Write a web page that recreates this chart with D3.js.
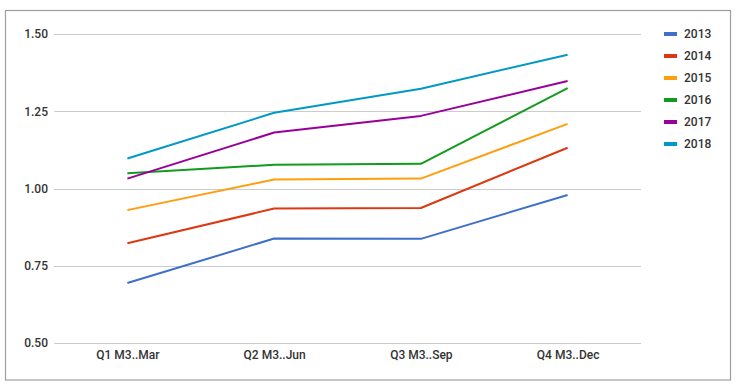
<!DOCTYPE html>
<html>
<head>
<meta charset="utf-8">
<script src="https://cdn.jsdelivr.net/npm/d3@7"></script>
<style>
  body { margin: 0; background: #fff; }
  svg { display: block; font-family: Roboto, "Noto Sans", sans-serif; }
</style>
</head>
<body>
<script>
(function(){

//data
var quarters = ["Q1 M3..Mar", "Q2 M3..Jun", "Q3 M3..Sep", "Q4 M3..Dec"];
var years = ["2013", "2014", "2015", "2016", "2017", "2018"];
var v2013 = [0.694, 0.838, 0.837, 0.979];
var v2014 = [0.823, 0.935, 0.937, 1.132];
var v2015 = [0.930, 1.029, 1.032, 1.209];
var v2016 = [1.049, 1.077, 1.080, 1.325];
var v2017 = [1.032, 1.181, 1.235, 1.348];
var v2018 = [1.097, 1.245, 1.323, 1.433];
var yTicks = [0.50, 0.75, 1.00, 1.25, 1.50];
var colors = ["#3f6fcc", "#dc3912", "#ff9e0f", "#149a1e", "#990099", "#0099c6"];

var seriesValues = [v2013, v2014, v2015, v2016, v2017, v2018];

//frame
var width = 739,
    height = 388;

var svg = d3.select("body")
    .append("svg")
    .attr("width", width)
    .attr("height", height);

//outer border
svg.append("rect")
    .attr("x", 5.5)
    .attr("y", 10.5)
    .attr("width", 725)
    .attr("height", 369.5)
    .attr("fill", "none")
    .attr("stroke", "#9e9e9e")
    .attr("stroke-width", 1.2);

var plot = {left: 54, right: 641, top: 34, bottom: 343};

var x = d3.scalePoint()
    .domain(quarters)
    .range([plot.left, plot.right])
    .padding(0.5);

var y = d3.scaleLinear()
    .domain([0.5, 1.5])
    .range([plot.bottom, plot.top]);

//gridlines
svg.selectAll(".grid")
    .data(yTicks)
    .enter()
    .append("line")
    .attr("class", "grid")
    .attr("x1", plot.left)
    .attr("x2", plot.right)
    .attr("y1", function(d){ return Math.round(y(d)) + 0.5; })
    .attr("y2", function(d){ return Math.round(y(d)) + 0.5; })
    .attr("stroke", "#cccccc")
    .attr("stroke-width", 1);

//y axis labels
var yAxis = d3.axisLeft(y)
    .tickValues(yTicks)
    .tickFormat(d3.format(".2f"))
    .tickSize(0)
    .tickPadding(6);

var gy = svg.append("g")
    .attr("transform", "translate(" + plot.left + ",0)")
    .call(yAxis);
gy.select(".domain").remove();
gy.selectAll("text")
    .attr("fill", "#333")
    .style("font-size", "12px")
    .style("font-weight", "500")
    .style("font-family", "Roboto, sans-serif");

//x axis labels
var xAxis = d3.axisBottom(x)
    .tickSize(0)
    .tickPadding(7);

var gx = svg.append("g")
    .attr("transform", "translate(0," + plot.bottom + ")")
    .call(xAxis);
gx.select(".domain").remove();
gx.selectAll("text")
    .attr("fill", "#333")
    .style("font-size", "12px")
    .style("font-weight", "500")
    .style("font-family", "Roboto, sans-serif");

//lines
var line = d3.line()
    .x(function(d, i){ return x(quarters[i]); })
    .y(function(d){ return y(d); });

svg.selectAll(".series")
    .data(seriesValues)
    .enter()
    .append("path")
    .attr("class", "series")
    .attr("d", line)
    .attr("fill", "none")
    .attr("stroke", function(d, i){ return colors[i]; })
    .attr("stroke-width", 2)
    .attr("stroke-linejoin", "round");

//legend
var legend = svg.selectAll(".legend")
    .data(years)
    .enter()
    .append("g")
    .attr("class", "legend")
    .attr("transform", function(d, i){
        return "translate(664," + (34 + i * 22) + ")";
    });

legend.append("rect")
    .attr("x", 0)
    .attr("y", -2)
    .attr("width", 13)
    .attr("height", 4)
    .attr("fill", function(d, i){ return colors[i]; });

legend.append("text")
    .attr("x", 20)
    .attr("y", 0)
    .attr("dy", "0.35em")
    .attr("fill", "#333")
    .style("font-size", "12px")
    .style("font-weight", "500")
    .text(function(d){ return d; });

})();
</script>
</body>
</html>
